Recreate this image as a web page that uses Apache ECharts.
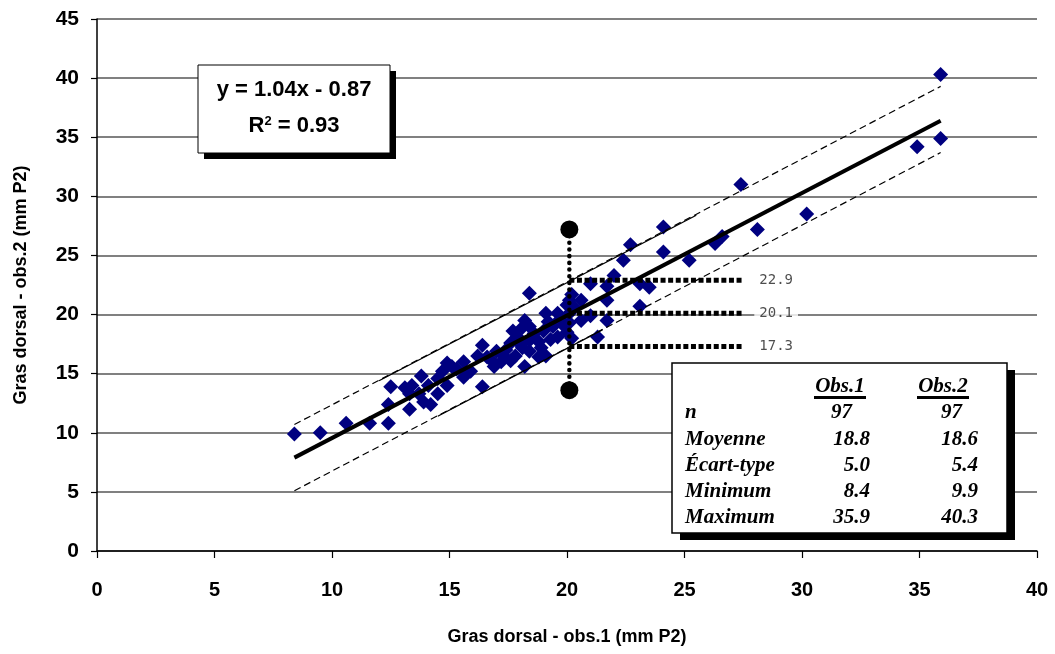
<!DOCTYPE html>
<html>
<head>
<meta charset="utf-8">
<title>Gras dorsal - obs.1 vs obs.2</title>
<script src="https://cdn.jsdelivr.net/npm/echarts@6.0.0/dist/echarts.min.js"></script>
<style>
  html, body { margin: 0; padding: 0; background: #fff; }
  #chart { width: 1055px; height: 654px; }
</style>
</head>
<body>
<div id="chart"></div>
<script>
var points = [
  [ 8.4, 9.9 ], [ 9.5, 10.0 ], [ 10.6, 10.8 ], [ 11.6, 10.8 ], [ 12.4, 10.8 ],
  [ 12.4, 12.4 ], [ 12.5, 13.9 ], [ 13.3, 12.0 ], [ 13.3, 13.3 ], [ 13.4, 14.0 ],
  [ 13.7, 13.3 ], [ 13.8, 14.8 ], [ 13.9, 12.6 ], [ 14.1, 14.0 ], [ 14.2, 12.4 ],
  [ 14.5, 13.3 ], [ 14.9, 14.0 ], [ 14.9, 15.9 ], [ 15.3, 15.4 ], [ 14.7, 15.2 ],
  [ 15.6, 16.0 ], [ 15.6, 14.7 ], [ 16.4, 17.4 ], [ 16.4, 13.9 ], [ 16.6, 16.4 ],
  [ 17.0, 16.9 ], [ 17.3, 16.5 ], [ 17.6, 16.1 ], [ 17.8, 16.5 ], [ 18.1, 17.2 ],
  [ 18.4, 16.9 ], [ 18.8, 16.4 ], [ 19.1, 16.5 ], [ 18.2, 15.6 ], [ 16.9, 15.6 ],
  [ 18.4, 21.8 ], [ 19.1, 20.1 ], [ 19.6, 20.1 ], [ 19.2, 19.4 ], [ 18.2, 19.5 ],
  [ 18.1, 18.9 ], [ 18.4, 19.0 ], [ 17.7, 18.6 ], [ 17.9, 18.1 ], [ 18.4, 17.8 ],
  [ 18.8, 17.7 ], [ 19.6, 18.1 ], [ 20.0, 18.5 ], [ 20.0, 20.8 ], [ 20.1, 21.2 ],
  [ 20.6, 21.2 ], [ 21.7, 21.2 ], [ 20.2, 21.7 ], [ 23.1, 20.7 ], [ 20.6, 19.5 ],
  [ 21.7, 19.5 ], [ 21.0, 19.9 ], [ 20.1, 20.1 ], [ 20.2, 18.0 ], [ 21.3, 18.1 ],
  [ 19.9, 19.0 ], [ 22.0, 23.3 ], [ 21.0, 22.6 ], [ 21.7, 22.4 ], [ 23.1, 22.6 ],
  [ 23.5, 22.3 ], [ 22.4, 24.6 ], [ 22.7, 25.9 ], [ 24.1, 27.4 ], [ 24.1, 25.3 ],
  [ 25.2, 24.6 ], [ 26.3, 26.0 ], [ 26.6, 26.6 ], [ 28.1, 27.2 ], [ 30.2, 28.5 ],
  [ 27.4, 31.0 ], [ 34.9, 34.2 ], [ 35.9, 34.9 ], [ 35.9, 40.3 ], [ 17.4, 17.0 ],
  [ 16.2, 16.5 ], [ 18.6, 18.4 ], [ 19.4, 19.0 ], [ 17.2, 16.0 ], [ 15.9, 15.2 ],
  [ 19.7, 19.6 ], [ 18.0, 17.5 ], [ 20.1, 19.3 ], [ 16.8, 16.1 ], [ 14.5, 14.6 ],
  [ 13.1, 13.8 ], [ 19.0, 18.6 ], [ 17.6, 17.6 ], [ 20.3, 20.6 ], [ 15.1, 15.6 ],
  [ 18.9, 17.2 ], [ 19.3, 17.9 ]
]

// droite de régression et limites (extrémités)
var regressionLine = [ [ 8.4, 7.9 ], [ 35.9, 36.4 ] ]
var upperLimit = [ [ 8.4, 10.7 ], [ 35.9, 39.3 ] ]
var upperLimitSolid = [ [ 12.0, 14.4 ], [ 25.5, 28.4 ] ]
var lowerLimit = [ [ 8.4, 5.1 ], [ 35.9, 33.7 ] ]
var lowerLimitSolid = [ [ 14.5, 11.4 ], [ 21.5, 18.7 ] ]

// repère à x = 20.1
var markerX = 20.1
var markerRange = [ 13.6, 27.2 ]
var markerLevels = [ 22.9, 20.1, 17.3 ]
var markerLevelEnd = 27.5
var markerLabelX = 28.9

var xTicks = [ 0, 40, 5 ]
var yTicks = [ 0, 45, 5 ]

var equationText = [ 'y = 1.04x - 0.87', 'R{sup|2} = 0.93' ]

var statHeaders = [ 'Obs.1', 'Obs.2' ]
var statLabels = [ 'n', 'Moyenne', 'Écart-type', 'Minimum', 'Maximum' ]
var statObs1 = [ '97', '18.8', '5.0', '8.4', '35.9' ]
var statObs2 = [ '97', '18.6', '5.4', '9.9', '40.3' ]

var chart = echarts.init(document.getElementById('chart'), null, { renderer: 'canvas' })

var axisFont = 'Liberation Sans'
var tableFont = 'italic bold 21px "Liberation Serif"'
var eqFont = 'bold 22px "Liberation Sans"'

function plainLine (name, data, style, z) {
  return {
    name: name,
    type: 'line',
    data: data,
    showSymbol: false,
    symbol: 'none',
    silent: true,
    z: z || 3,
    lineStyle: style
  }
}

var series = [ {
  name: 'Observations',
  type: 'scatter',
  data: points,
  symbol: 'diamond',
  symbolSize: 15,
  z: 2,
  itemStyle: { color: '#000080', opacity: 1 }
} ]

series.push(plainLine('regression', regressionLine, { color: '#000', width: 4 }, 4))
series.push(plainLine('upper', upperLimit, { color: '#000', width: 1.2, type: [ 7, 4 ] }))
series.push(plainLine('upperSolid', upperLimitSolid, { color: '#000', width: 1.3 }))
series.push(plainLine('lower', lowerLimit, { color: '#000', width: 1.2, type: [ 7, 4 ] }))
series.push(plainLine('lowerSolid', lowerLimitSolid, { color: '#000', width: 1.3 }))

markerLevels.forEach(function (v) {
  series.push(plainLine('level ' + v, [ [ markerX, v ], [ markerLevelEnd, v ] ],
    { color: '#000', width: 5, type: [ 5, 2.6 ], cap: 'butt' }, 5))
})

series.push({
  name: 'marker',
  type: 'line',
  data: [ [ markerX, markerRange[ 0 ] ], [ markerX, markerRange[ 1 ] ] ],
  symbol: 'circle',
  symbolSize: 18,
  showSymbol: true,
  silent: true,
  z: 6,
  itemStyle: { color: '#000' },
  lineStyle: { color: '#000', width: 4.5, type: [ 0.1, 6.6 ], cap: 'round' }
})

series.push({
  name: 'levelLabels',
  type: 'scatter',
  data: markerLevels.map(function (v) { return [ markerLabelX, v ] }),
  symbolSize: 0,
  silent: true,
  z: 7,
  label: {
    show: true,
    position: 'inside',
    formatter: function (p) { return p.value[ 1 ].toFixed(1) },
    fontFamily: 'DejaVu Sans Mono',
    fontSize: 14,
    color: '#222',
    backgroundColor: '#fff',
    padding: [ 1, 5 ]
  }
})

// encadrés (équation et statistiques)
var graphics = [
  { type: 'rect', z: 100, shape: { x: 204, y: 71, width: 192, height: 88 }, style: { fill: '#000' } },
  { type: 'rect', z: 101, shape: { x: 198, y: 65, width: 192, height: 88 }, style: { fill: '#fff', stroke: '#000', lineWidth: 1 } },
  { type: 'text', z: 102, style: { text: equationText[ 0 ], x: 294, y: 90, align: 'center', verticalAlign: 'middle', font: eqFont, fill: '#000' } },
  {
    type: 'text',
    z: 102,
    style: {
      text: equationText[ 1 ],
      x: 294,
      y: 126,
      align: 'center',
      verticalAlign: 'middle',
      font: eqFont,
      fill: '#000',
      rich: {
        sup: { font: 'bold 13px "Liberation Sans"', fill: '#000', verticalAlign: 'top', padding: [ 0, 0, 10, 0 ] }
      }
    }
  },
  { type: 'rect', z: 100, shape: { x: 680, y: 370, width: 335, height: 170 }, style: { fill: '#000' } },
  { type: 'rect', z: 101, shape: { x: 672, y: 363, width: 335, height: 170 }, style: { fill: '#fff', stroke: '#000', lineWidth: 1.5 } }
]

var headerX = [ 840, 943 ]
statHeaders.forEach(function (h, i) {
  graphics.push({ type: 'text', z: 102, style: { text: h, x: headerX[ i ], y: 387, align: 'center', verticalAlign: 'middle', font: tableFont, fill: '#000' } })
  graphics.push({ type: 'rect', z: 102, shape: { x: headerX[ i ] - 26, y: 396, width: 52, height: 3 }, style: { fill: '#000' } })
})

var rowY = [ 413, 440, 466, 492, 518 ]
statLabels.forEach(function (label, i) {
  var intRow = statObs1[ i ].indexOf('.') < 0
  graphics.push({ type: 'text', z: 102, style: { text: label, x: 685, y: rowY[ i ], align: 'left', verticalAlign: 'middle', font: tableFont, fill: '#000' } })
  graphics.push({ type: 'text', z: 102, style: { text: statObs1[ i ], x: intRow ? 852 : 870, y: rowY[ i ], align: 'right', verticalAlign: 'middle', font: tableFont, fill: '#000' } })
  graphics.push({ type: 'text', z: 102, style: { text: statObs2[ i ], x: intRow ? 962 : 978, y: rowY[ i ], align: 'right', verticalAlign: 'middle', font: tableFont, fill: '#000' } })
})

var option = {
  animation: false,
  backgroundColor: '#fff',
  grid: { left: 97, right: 18, top: 19, bottom: 103, containLabel: false },
  xAxis: {
    type: 'value',
    min: xTicks[ 0 ],
    max: xTicks[ 1 ],
    interval: xTicks[ 2 ],
    name: 'Gras dorsal - obs.1 (mm P2)',
    nameLocation: 'middle',
    nameGap: 77,
    nameTextStyle: { fontFamily: axisFont, fontWeight: 'bold', fontSize: 18, color: '#000' },
    axisLine: { show: true, onZero: false, lineStyle: { color: '#000', width: 1.5 } },
    axisTick: { show: true, length: 7, lineStyle: { color: '#000', width: 1.2 } },
    axisLabel: { margin: 29, fontFamily: axisFont, fontWeight: 'bold', fontSize: 20, color: '#000' },
    splitLine: { show: false }
  },
  yAxis: {
    type: 'value',
    min: yTicks[ 0 ],
    max: yTicks[ 1 ],
    interval: yTicks[ 2 ],
    name: 'Gras dorsal - obs.2 (mm P2)',
    nameLocation: 'middle',
    nameGap: 67,
    nameTextStyle: { fontFamily: axisFont, fontWeight: 'bold', fontSize: 18, color: '#000' },
    axisLine: { show: true, onZero: false, lineStyle: { color: '#000', width: 1.5 } },
    axisTick: { show: true, length: 6, lineStyle: { color: '#000', width: 1.2 } },
    axisLabel: { margin: 18, fontFamily: axisFont, fontWeight: 'bold', fontSize: 21, color: '#000' },
    splitLine: { show: true, lineStyle: { color: '#808080', width: 2 } }
  },
  tooltip: { show: false },
  series: series,
  graphic: graphics
}

chart.setOption(option)
</script>
</body>
</html>
